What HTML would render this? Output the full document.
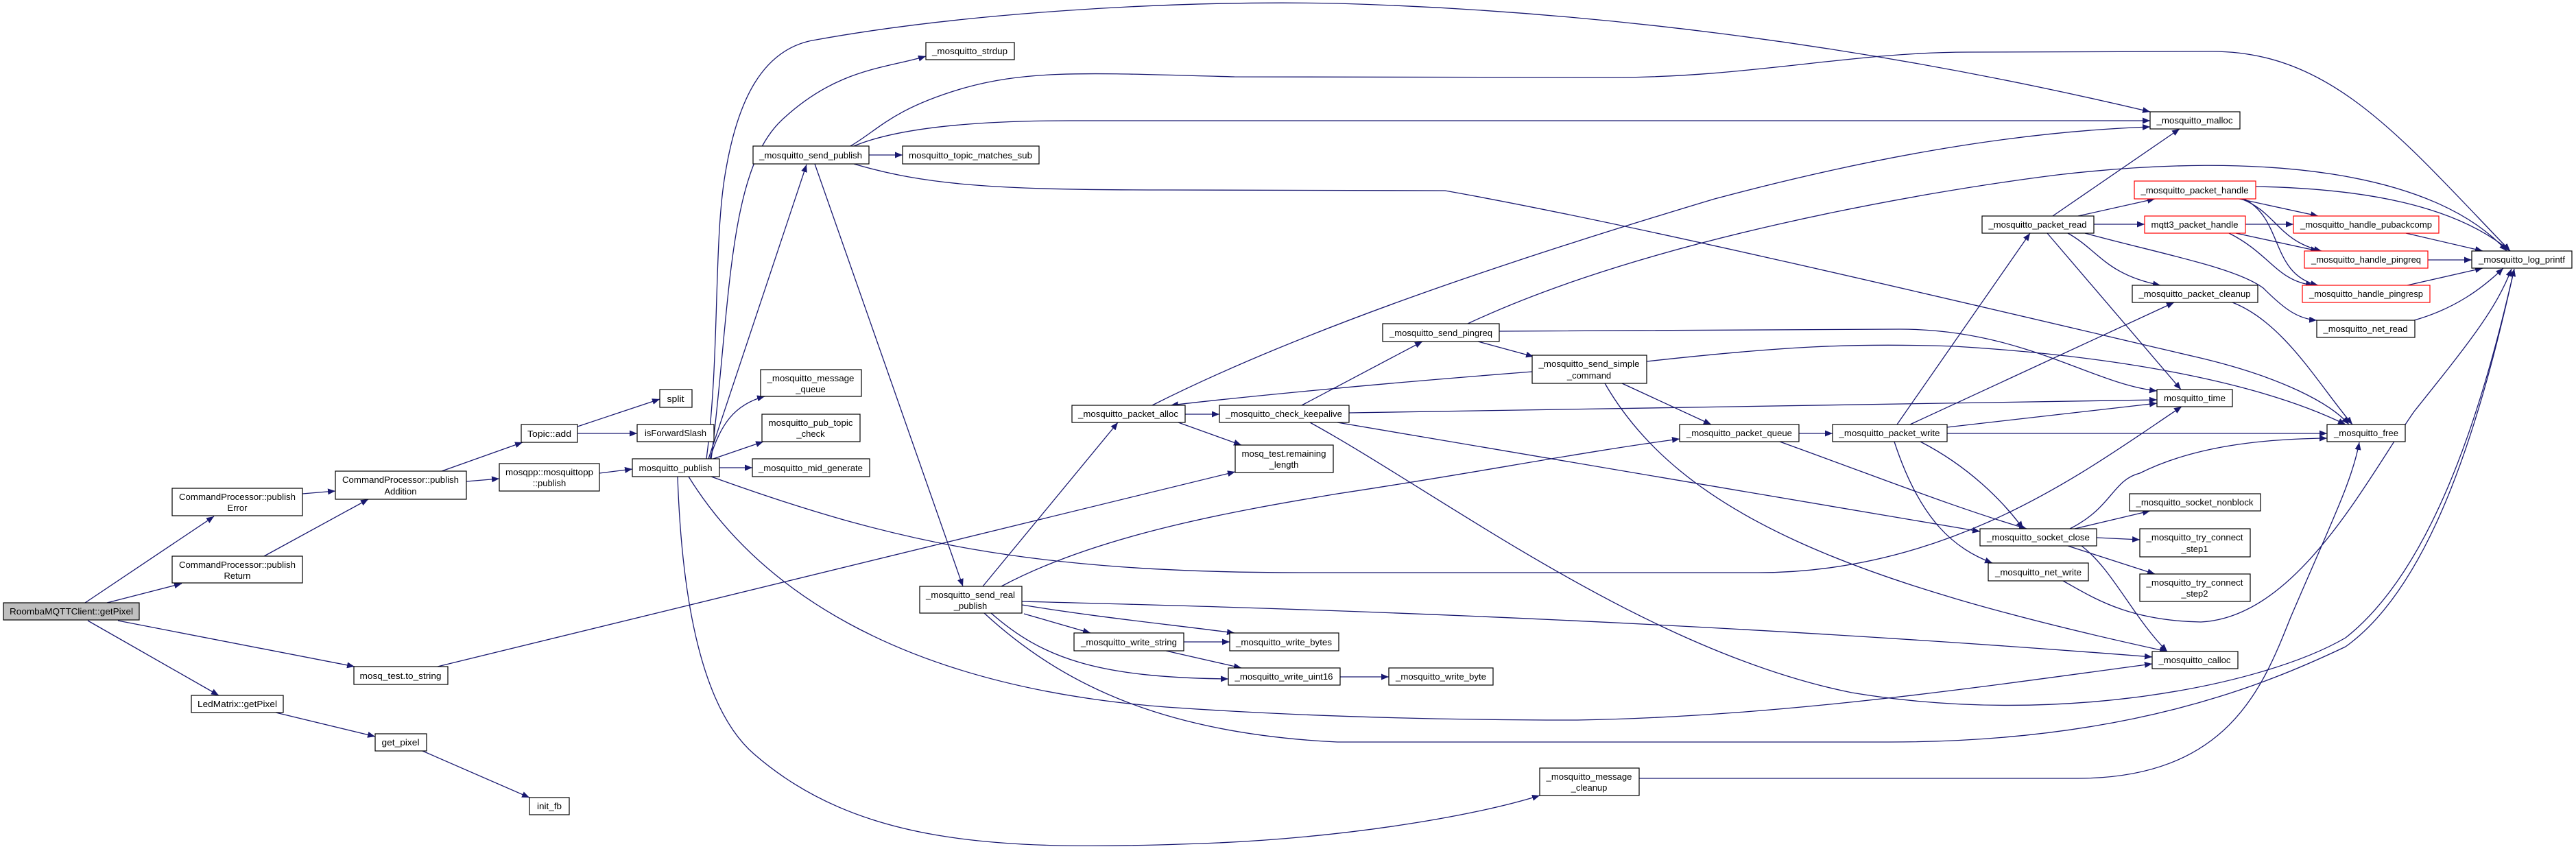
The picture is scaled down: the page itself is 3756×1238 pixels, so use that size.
<!DOCTYPE html>
<html><head><meta charset="utf-8"><style>
html,body{margin:0;padding:0;background:#fff;}
svg{display:block;}
text{font-family:"Liberation Sans",Arial,sans-serif;font-size:13px;fill:#000;text-anchor:middle;}
.n{fill:#fff;stroke:#000;stroke-width:1.2;}
.r{fill:#fff;stroke:#ff0000;stroke-width:1.2;}
.g{fill:#bfbfbf;stroke:#000;stroke-width:1.2;}
.e{fill:none;stroke:#191970;stroke-width:1.3;marker-end:url(#a);}
</style></head><body>
<svg width="3756" height="1238" viewBox="0 0 3756 1238" xmlns="http://www.w3.org/2000/svg">
<defs><marker id="a" markerUnits="userSpaceOnUse" markerWidth="11" markerHeight="9" refX="11" refY="4.5" orient="auto"><path d="M0,0 L11,4.5 L0,9 z" fill="#191970"/></marker></defs>
<g>
<path class="e" d="M124,879 L312,753"/>
<path class="e" d="M156,879 L265,851"/>
<path class="e" d="M172,905 L517,972"/>
<path class="e" d="M128,905 L319,1014"/>
<path class="e" d="M441,720 L489,716"/>
<path class="e" d="M385,811 L537,728"/>
<path class="e" d="M644,687 L762,645"/>
<path class="e" d="M680,702 L728,698"/>
<path class="e" d="M842,622 L962,582"/>
<path class="e" d="M842,632 L929,632"/>
<path class="e" d="M874,690 L922,684"/>
<path class="e" d="M402,1039 L547,1074"/>
<path class="e" d="M616,1095 L772,1163"/>
<path class="e" d="M638,972 L1801,688"/>
<path class="e" d="M1033,669 L1176,240"/>
<path class="e" d="M1037,669 C1065,450 1060,250 1140,175 S1290,100 1350,82"/>
<path class="e" d="M1030,669 C1050,520 1040,350 1058,250 C1075,150 1110,70 1190,58 C1400,20 1700,0 1950,5 C2300,15 2700,60 3135,163"/>
<path class="e" d="M1267,226 L1316,226"/>
<path class="e" d="M1245,213 C1300,190 1400,176 1560,176 L3135,176"/>
<path class="e" d="M1240,213 C1280,190 1300,160 1400,130 C1500,100 1600,107 1800,112 L2350,113 C2550,113 2700,76 2870,76 L3225,75 C3400,75 3500,200 3660,366"/>
<path class="e" d="M1245,239 C1350,270 1450,277 1700,277 L2107,278 C2400,330 2900,450 3200,520 C3330,550 3400,590 3425,619"/>
<path class="e" d="M1188,239 L1404,855"/>
<path class="e" d="M1035,669 C1050,620 1070,590 1115,578"/>
<path class="e" d="M1040,669 L1113,644"/>
<path class="e" d="M1049,682 L1097,682"/>
<path class="e" d="M1037,695 C1300,790 1500,835 1900,835 L2563,835 C2850,835 3050,680 3181,593"/>
<path class="e" d="M1004,695 C1100,850 1300,1000 1700,1031 C1900,1045 2100,1050 2300,1050 C2600,1045 2900,1000 3138,968"/>
<path class="e" d="M1435,894 C1550,1000 1700,1070 1950,1082 L2755,1082 C3100,1082 3300,1000 3420,943 C3550,850 3620,600 3666,392"/>
<path class="e" d="M988,695 C995,900 1030,1040 1100,1100 C1250,1230 1450,1240 1721,1231 C1950,1225 2150,1190 2245,1160"/>
<path class="e" d="M2390,1135 L3029,1135 C3250,1135 3300,1000 3340,900 C3400,760 3430,700 3440,645"/>
<path class="e" d="M1433,855 L1630,616"/>
<path class="e" d="M1460,855 C1600,780 1800,745 1950,720 C2150,690 2300,660 2449,640"/>
<path class="e" d="M1493,895 L1590,923"/>
<path class="e" d="M1490,882 C1600,900 1700,910 1800,923"/>
<path class="e" d="M1445,894 C1520,960 1600,988 1791,990"/>
<path class="e" d="M1726,936 L1793,936"/>
<path class="e" d="M1700,949 L1810,974"/>
<path class="e" d="M1954,987 L2025,987"/>
<path class="e" d="M1490,877 C1800,885 2400,900 3138,958"/>
<path class="e" d="M1910,616 C2100,720 2400,950 2700,1010 C3000,1060 3300,1000 3420,930 C3560,820 3630,550 3666,392"/>
<path class="e" d="M2340,559 C2450,750 2700,850 3160,950"/>
<path class="e" d="M1680,591 C1900,480 2200,380 2500,290 C2800,210 3000,190 3135,185"/>
<path class="e" d="M1728,604 L1778,604"/>
<path class="e" d="M1718,616 L1810,649"/>
<path class="e" d="M2234,542 C2000,560 1800,580 1707,591"/>
<path class="e" d="M1898,591 L2074,498"/>
<path class="e" d="M1967,602 L3145,583"/>
<path class="e" d="M1950,616 L2887,775"/>
<path class="e" d="M2140,472 C2400,350 2800,280 3000,255 C3300,220 3550,250 3655,366"/>
<path class="e" d="M2155,498 L2236,520"/>
<path class="e" d="M2186,483 L2770,480 C2950,480 3050,560 3145,570"/>
<path class="e" d="M2401,527 C2600,505 2700,500 2850,505 C3100,520 3300,560 3420,619"/>
<path class="e" d="M2365,559 L2495,619"/>
<path class="e" d="M2623,632 L2672,632"/>
<path class="e" d="M2595,644 C2750,700 2850,740 2955,771"/>
<path class="e" d="M2766,619 L2960,340"/>
<path class="e" d="M2785,619 L3170,441"/>
<path class="e" d="M2839,623 L3145,588"/>
<path class="e" d="M2839,632 L3393,632"/>
<path class="e" d="M2800,644 C2870,680 2920,730 2950,771"/>
<path class="e" d="M2762,644 C2800,760 2850,800 2905,821"/>
<path class="e" d="M2993,315 L3178,188"/>
<path class="e" d="M3030,315 L3142,290"/>
<path class="e" d="M3053,327 L3127,327"/>
<path class="e" d="M3015,340 C3060,365 3070,400 3150,416"/>
<path class="e" d="M2985,340 L3180,568"/>
<path class="e" d="M3040,340 C3150,370 3260,390 3300,420 C3330,450 3350,465 3378,467"/>
<path class="e" d="M3289,272 C3450,275 3580,300 3660,366"/>
<path class="e" d="M3265,290 L3380,315"/>
<path class="e" d="M3268,290 C3320,310 3320,350 3385,366"/>
<path class="e" d="M3272,290 C3330,320 3310,400 3380,416"/>
<path class="e" d="M3274,327 L3344,327"/>
<path class="e" d="M3260,340 L3380,366"/>
<path class="e" d="M3250,340 C3310,370 3320,410 3373,416"/>
<path class="e" d="M3508,340 L3620,366"/>
<path class="e" d="M3540,379 L3604,379"/>
<path class="e" d="M3510,416 L3620,391"/>
<path class="e" d="M3520,467 C3580,450 3620,420 3650,391"/>
<path class="e" d="M3255,441 C3330,470 3380,560 3430,619"/>
<path class="e" d="M3025,771 L3135,745"/>
<path class="e" d="M3057,784 L3120,787"/>
<path class="e" d="M3015,796 L3142,837"/>
<path class="e" d="M3018,771 C3080,740 3080,700 3120,690 C3200,650 3300,640 3393,639"/>
<path class="e" d="M3035,796 C3080,830 3110,900 3160,950"/>
<path class="e" d="M3008,847 C3050,870 3100,905 3209,907 C3350,900 3450,700 3520,600 C3600,500 3640,450 3662,392"/>
</g>
<g>
<rect class="g" x="5" y="879" width="198" height="25"/><text x="104" y="896" textLength="180" lengthAdjust="spacingAndGlyphs">RoombaMQTTClient::getPixel</text>
<rect class="n" x="251" y="712" width="190" height="40"/><text x="346" y="729" textLength="170" lengthAdjust="spacingAndGlyphs">CommandProcessor::publish</text><text x="346" y="745">Error</text>
<rect class="n" x="251" y="811" width="190" height="39"/><text x="346" y="828" textLength="170" lengthAdjust="spacingAndGlyphs">CommandProcessor::publish</text><text x="346" y="844">Return</text>
<rect class="n" x="489" y="687" width="191" height="41"/><text x="584" y="704" textLength="170" lengthAdjust="spacingAndGlyphs">CommandProcessor::publish</text><text x="584" y="721">Addition</text>
<rect class="n" x="760" y="619" width="82" height="26"/><text x="801" y="637" textLength="64" lengthAdjust="spacingAndGlyphs">Topic::add</text>
<rect class="n" x="728" y="676" width="146" height="40"/><text x="801" y="693" textLength="128" lengthAdjust="spacingAndGlyphs">mosqpp::mosquittopp</text><text x="801" y="709">::publish</text>
<rect class="n" x="516" y="972" width="137" height="26"/><text x="584" y="990" textLength="119" lengthAdjust="spacingAndGlyphs">mosq_test.to_string</text>
<rect class="n" x="279" y="1014" width="134" height="25"/><text x="346" y="1031" textLength="116" lengthAdjust="spacingAndGlyphs">LedMatrix::getPixel</text>
<rect class="n" x="547" y="1070" width="75" height="25"/><text x="584" y="1087" textLength="55" lengthAdjust="spacingAndGlyphs">get_pixel</text>
<rect class="n" x="772" y="1163" width="58" height="25"/><text x="801" y="1180" textLength="36" lengthAdjust="spacingAndGlyphs">init_fb</text>
<rect class="n" x="962" y="568" width="47" height="26"/><text x="985" y="586" textLength="25" lengthAdjust="spacingAndGlyphs">split</text>
<rect class="n" x="929" y="619" width="112" height="25"/><text x="985" y="636" textLength="90" lengthAdjust="spacingAndGlyphs">isForwardSlash</text>
<rect class="n" x="922" y="669" width="127" height="26"/><text x="985" y="687" textLength="107" lengthAdjust="spacingAndGlyphs">mosquitto_publish</text>
<rect class="n" x="1350" y="62" width="129" height="25"/><text x="1414" y="79" textLength="110" lengthAdjust="spacingAndGlyphs">_mosquitto_strdup</text>
<rect class="n" x="1098" y="213" width="169" height="26"/><text x="1182" y="231" textLength="150" lengthAdjust="spacingAndGlyphs">_mosquitto_send_publish</text>
<rect class="n" x="1316" y="213" width="199" height="26"/><text x="1415" y="231" textLength="180" lengthAdjust="spacingAndGlyphs">mosquitto_topic_matches_sub</text>
<rect class="n" x="1109" y="539" width="147" height="39"/><text x="1182" y="556" textLength="127" lengthAdjust="spacingAndGlyphs">_mosquitto_message</text><text x="1182" y="572">_queue</text>
<rect class="n" x="1111" y="604" width="143" height="40"/><text x="1182" y="621" textLength="123" lengthAdjust="spacingAndGlyphs">mosquitto_pub_topic</text><text x="1182" y="637">_check</text>
<rect class="n" x="1097" y="669" width="171" height="26"/><text x="1182" y="687" textLength="152" lengthAdjust="spacingAndGlyphs">_mosquitto_mid_generate</text>
<rect class="n" x="1563" y="591" width="165" height="25"/><text x="1645" y="608" textLength="146" lengthAdjust="spacingAndGlyphs">_mosquitto_packet_alloc</text>
<rect class="n" x="1778" y="591" width="189" height="25"/><text x="1872" y="608" textLength="170" lengthAdjust="spacingAndGlyphs">_mosquitto_check_keepalive</text>
<rect class="n" x="1801" y="649" width="143" height="40"/><text x="1872" y="666" textLength="123" lengthAdjust="spacingAndGlyphs">mosq_test.remaining</text><text x="1872" y="682">_length</text>
<rect class="n" x="1341" y="855" width="149" height="39"/><text x="1415" y="872" textLength="130" lengthAdjust="spacingAndGlyphs">_mosquitto_send_real</text><text x="1415" y="888">_publish</text>
<rect class="n" x="1566" y="923" width="160" height="26"/><text x="1646" y="941" textLength="140" lengthAdjust="spacingAndGlyphs">_mosquitto_write_string</text>
<rect class="n" x="1793" y="923" width="159" height="26"/><text x="1872" y="941" textLength="140" lengthAdjust="spacingAndGlyphs">_mosquitto_write_bytes</text>
<rect class="n" x="1791" y="974" width="163" height="25"/><text x="1872" y="991" textLength="143" lengthAdjust="spacingAndGlyphs">_mosquitto_write_uint16</text>
<rect class="n" x="2025" y="974" width="152" height="25"/><text x="2101" y="991" textLength="132" lengthAdjust="spacingAndGlyphs">_mosquitto_write_byte</text>
<rect class="n" x="2245" y="1120" width="145" height="40"/><text x="2317" y="1137" textLength="125" lengthAdjust="spacingAndGlyphs">_mosquitto_message</text><text x="2317" y="1153">_cleanup</text>
<rect class="n" x="2016" y="472" width="170" height="26"/><text x="2101" y="490" textLength="150" lengthAdjust="spacingAndGlyphs">_mosquitto_send_pingreq</text>
<rect class="n" x="2234" y="518" width="167" height="41"/><text x="2317" y="535" textLength="147" lengthAdjust="spacingAndGlyphs">_mosquitto_send_simple</text><text x="2317" y="552">_command</text>
<rect class="n" x="2449" y="619" width="174" height="25"/><text x="2536" y="636" textLength="154" lengthAdjust="spacingAndGlyphs">_mosquitto_packet_queue</text>
<rect class="n" x="2672" y="619" width="167" height="25"/><text x="2755" y="636" textLength="147" lengthAdjust="spacingAndGlyphs">_mosquitto_packet_write</text>
<rect class="n" x="2890" y="315" width="163" height="25"/><text x="2971" y="332" textLength="143" lengthAdjust="spacingAndGlyphs">_mosquitto_packet_read</text>
<rect class="n" x="2887" y="771" width="170" height="25"/><text x="2972" y="788" textLength="150" lengthAdjust="spacingAndGlyphs">_mosquitto_socket_close</text>
<rect class="n" x="2899" y="821" width="146" height="26"/><text x="2972" y="839" textLength="126" lengthAdjust="spacingAndGlyphs">_mosquitto_net_write</text>
<rect class="n" x="3135" y="163" width="131" height="25"/><text x="3200" y="180" textLength="111" lengthAdjust="spacingAndGlyphs">_mosquitto_malloc</text>
<rect class="r" x="3112" y="264" width="177" height="26"/><text x="3200" y="282" textLength="157" lengthAdjust="spacingAndGlyphs">_mosquitto_packet_handle</text>
<rect class="r" x="3127" y="315" width="147" height="25"/><text x="3200" y="332" textLength="127" lengthAdjust="spacingAndGlyphs">mqtt3_packet_handle</text>
<rect class="r" x="3344" y="315" width="212" height="25"/><text x="3450" y="332" textLength="192" lengthAdjust="spacingAndGlyphs">_mosquitto_handle_pubackcomp</text>
<rect class="r" x="3360" y="366" width="180" height="25"/><text x="3450" y="383" textLength="160" lengthAdjust="spacingAndGlyphs">_mosquitto_handle_pingreq</text>
<rect class="r" x="3357" y="416" width="186" height="25"/><text x="3450" y="433" textLength="166" lengthAdjust="spacingAndGlyphs">_mosquitto_handle_pingresp</text>
<rect class="n" x="3604" y="366" width="146" height="25"/><text x="3677" y="383" textLength="126" lengthAdjust="spacingAndGlyphs">_mosquitto_log_printf</text>
<rect class="n" x="3109" y="416" width="183" height="25"/><text x="3200" y="433" textLength="163" lengthAdjust="spacingAndGlyphs">_mosquitto_packet_cleanup</text>
<rect class="n" x="3378" y="467" width="143" height="25"/><text x="3449" y="484" textLength="123" lengthAdjust="spacingAndGlyphs">_mosquitto_net_read</text>
<rect class="n" x="3145" y="568" width="110" height="25"/><text x="3200" y="585" textLength="90" lengthAdjust="spacingAndGlyphs">mosquitto_time</text>
<rect class="n" x="3393" y="619" width="114" height="25"/><text x="3450" y="636" textLength="94" lengthAdjust="spacingAndGlyphs">_mosquitto_free</text>
<rect class="n" x="3105" y="720" width="191" height="25"/><text x="3200" y="737" textLength="171" lengthAdjust="spacingAndGlyphs">_mosquitto_socket_nonblock</text>
<rect class="n" x="3120" y="771" width="161" height="41"/><text x="3200" y="788" textLength="141" lengthAdjust="spacingAndGlyphs">_mosquitto_try_connect</text><text x="3200" y="805">_step1</text>
<rect class="n" x="3120" y="837" width="161" height="40"/><text x="3200" y="854" textLength="141" lengthAdjust="spacingAndGlyphs">_mosquitto_try_connect</text><text x="3200" y="870">_step2</text>
<rect class="n" x="3138" y="950" width="125" height="25"/><text x="3200" y="967" textLength="105" lengthAdjust="spacingAndGlyphs">_mosquitto_calloc</text>
</g>
</svg>
</body></html>
